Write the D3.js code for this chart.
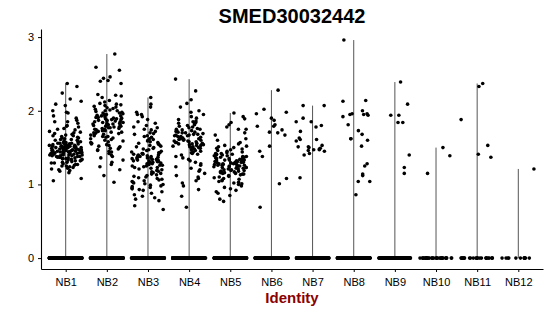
<!DOCTYPE html>
<html>
<meta charset="utf-8">
<head>
  <title>SMED30032442 violin</title>
</head>

<style>
body { margin: 0; background: white; }
text {
  font-family: "Liberation Sans", Arial, Helvetica, sans-serif;
}
.tick text { font-size: 11px; fill: black; }
.tick line, .domain { stroke: black; }
</style>

<body>
  <svg width="550" height="316"></svg>

  <script src="https://cdnjs.cloudflare.com/ajax/libs/d3/7.8.5/d3.min.js"></script>
  <script>
var identities = ["NB1", "NB2", "NB3", "NB4", "NB5", "NB6", "NB7", "NB8", "NB9", "NB10", "NB11", "NB12"];
var yTicks = [0, 1, 2, 3];

// number of cells with zero expression in each identity
var zeroCounts = [300, 280, 260, 270, 260, 220, 210, 200, 120, 34, 24, 12];

// non-zero expression values
var nb1 = [2.37,2.33,2.24,2.16,2.13,2.09,2.07,2.00,1.98,1.97,1.93,1.90,1.87,1.85,1.85,1.83,1.80,1.79,1.78,1.76,1.75,1.74,1.72,1.71,1.70,1.69,1.68,1.67,1.66,1.66,1.65,1.64,1.63,1.63,1.62,1.61,1.61,1.60,1.60,1.59,1.58,1.58,1.57,1.57,1.56,1.56,1.55,1.55,1.55,1.54,1.54,1.53,1.53,1.53,1.52,1.52,1.52,1.51,1.51,1.51,1.50,1.50,1.50,1.50,1.49,1.49,1.49,1.48,1.48,1.48,1.48,1.47,1.47,1.47,1.47,1.46,1.46,1.46,1.46,1.45,1.45,1.45,1.45,1.44,1.44,1.44,1.44,1.43,1.43,1.43,1.43,1.42,1.42,1.42,1.42,1.41,1.41,1.41,1.40,1.40,1.40,1.40,1.39,1.39,1.39,1.38,1.38,1.38,1.37,1.37,1.37,1.36,1.36,1.35,1.35,1.34,1.34,1.33,1.33,1.32,1.31,1.30,1.30,1.29,1.28,1.27,1.26,1.25,1.24,1.22,1.20,1.18,1.16,1.08,1.05,1.56,1.52,1.49,1.46,1.44,1.41,1.38,1.35,1.32,1.29,1.27,1.25,1.23,1.21,1.19];
var nb2 = [2.77,2.59,2.55,2.46,2.44,2.41,2.40,2.37,2.22,2.21,2.20,2.18,2.14,2.12,2.10,2.09,2.08,2.07,2.06,2.05,2.04,2.03,2.02,2.01,2.00,2.00,1.99,1.98,1.97,1.97,1.96,1.95,1.95,1.94,1.93,1.93,1.92,1.91,1.91,1.90,1.90,1.89,1.89,1.88,1.88,1.87,1.87,1.86,1.86,1.85,1.85,1.84,1.84,1.83,1.83,1.82,1.82,1.81,1.81,1.80,1.80,1.79,1.79,1.78,1.78,1.77,1.77,1.76,1.76,1.75,1.75,1.74,1.73,1.73,1.72,1.71,1.71,1.70,1.70,1.69,1.68,1.68,1.67,1.66,1.65,1.65,1.64,1.63,1.62,1.61,1.60,1.59,1.58,1.57,1.56,1.55,1.54,1.53,1.52,1.51,1.50,1.49,1.48,1.47,1.46,1.45,1.44,1.42,1.40,1.38,1.36,1.33,1.30,1.27,1.24,1.20,1.12,1.03];
var nb3 = [2.18,2.09,2.05,1.98,1.95,1.95,1.92,1.88,1.85,1.83,1.80,1.78,1.77,1.75,1.74,1.72,1.70,1.69,1.68,1.66,1.65,1.64,1.62,1.61,1.60,1.59,1.58,1.57,1.56,1.55,1.54,1.53,1.52,1.51,1.50,1.49,1.48,1.47,1.46,1.45,1.44,1.43,1.43,1.42,1.42,1.41,1.41,1.40,1.40,1.39,1.39,1.38,1.38,1.37,1.37,1.36,1.36,1.35,1.35,1.34,1.34,1.33,1.33,1.32,1.32,1.31,1.31,1.30,1.30,1.29,1.29,1.28,1.28,1.27,1.27,1.26,1.26,1.25,1.25,1.24,1.23,1.23,1.22,1.21,1.20,1.19,1.18,1.17,1.16,1.15,1.14,1.13,1.12,1.11,1.10,1.09,1.08,1.07,1.06,1.05,1.04,1.03,1.02,1.01,1.00,0.99,0.98,0.97,0.96,0.95,0.94,0.93,0.92,0.90,0.88,0.86,0.84,0.82,0.80,0.78,0.71,0.66];
var nb4 = [2.43,2.27,2.15,2.10,2.05,2.00,1.98,1.95,1.92,1.90,1.88,1.86,1.85,1.84,1.83,1.82,1.81,1.80,1.79,1.78,1.77,1.76,1.75,1.75,1.74,1.73,1.73,1.72,1.71,1.71,1.70,1.70,1.69,1.68,1.68,1.67,1.67,1.66,1.66,1.65,1.65,1.64,1.64,1.63,1.63,1.62,1.62,1.61,1.61,1.60,1.60,1.59,1.59,1.58,1.58,1.57,1.57,1.56,1.56,1.55,1.55,1.54,1.54,1.53,1.53,1.52,1.51,1.51,1.50,1.50,1.49,1.48,1.47,1.46,1.45,1.44,1.43,1.42,1.41,1.40,1.38,1.36,1.34,1.32,1.30,1.28,1.26,1.24,1.22,1.20,1.18,1.15,1.12,1.10,1.08,1.05,1.02,0.98,0.93,0.84,0.69];
var nb5 = [1.97,1.92,1.89,1.84,1.81,1.78,1.75,1.75,1.70,1.67,1.62,1.60,1.57,1.55,1.53,1.52,1.51,1.50,1.49,1.48,1.47,1.46,1.45,1.44,1.43,1.42,1.42,1.41,1.41,1.40,1.40,1.39,1.39,1.38,1.38,1.37,1.37,1.36,1.36,1.35,1.35,1.34,1.34,1.33,1.33,1.33,1.32,1.32,1.32,1.31,1.31,1.31,1.30,1.30,1.30,1.29,1.29,1.29,1.28,1.28,1.28,1.27,1.27,1.27,1.26,1.26,1.26,1.25,1.25,1.25,1.24,1.24,1.24,1.23,1.23,1.23,1.22,1.22,1.21,1.21,1.20,1.20,1.19,1.19,1.18,1.18,1.17,1.17,1.16,1.16,1.15,1.15,1.14,1.14,1.13,1.12,1.11,1.10,1.09,1.08,1.07,1.06,1.05,1.04,1.03,1.02,1.01,1.00,0.98,0.96,0.94,0.92,0.90,0.88,0.85,0.80,0.77];
var nb6 = [2.28,2.02,1.98,1.96,1.90,1.87,1.81,1.79,1.79,1.74,1.71,1.70,1.67,1.52,1.45,1.38,1.08,1.01,0.69];
var nb7 = [2.07,2.07,1.90,1.85,1.85,1.80,1.78,1.72,1.63,1.61,1.61,1.59,1.53,1.51,1.51,1.50,1.49,1.48,1.47,1.47,1.46,1.45,1.42,1.40,1.09];
var nb8 = [2.96,2.14,2.13,2.00,1.96,1.96,1.95,1.95,1.94,1.92,1.81,1.73,1.68,1.62,1.62,1.60,1.52,1.28,1.25,1.14,1.12,1.04,1.04,0.86];
var nb9 = [2.39,2.09,1.94,1.94,1.84,1.84,1.40,1.23,1.15];
var nb10 = [1.50,1.39,1.15];
var nb11 = [2.37,2.33,1.88,1.53,1.41,1.37];
var nb12 = [1.21];

var groups = [nb1, nb2, nb3, nb4, nb5, nb6, nb7, nb8, nb9, nb10, nb11, nb12];

var svg = d3.select('svg');
var plotLeft = 41, plotRight = 543, plotTop = 29, plotBottom = 269;

var x = d3.scalePoint()
  .domain(identities)
  .range([plotLeft, plotRight])
  .padding(0.6);

var y = d3.scaleLinear()
  .domain([-0.148, 3.11])
  .range([plotBottom, plotTop]);

var jitter = 0.4 * x.step();

// deterministic scatter in [0, 1) for horizontal jitter
function spread(a, b) {
  var s = Math.sin(a * 12.9898 + b * 78.233) * 43758.5453;
  return s - Math.floor(s);
}

// violins collapse to a thin line: nearly all mass sits at zero
svg.append('g')
  .selectAll('line')
  .data(identities)
  .enter()
  .append('line')
  .attr('x1', function(d) { return x(d); })
  .attr('x2', function(d) { return x(d); })
  .attr('y1', y(0))
  .attr('y2', function(d, i) { return y(d3.max(groups[i])); })
  .attr('stroke', '#555')
  .attr('stroke-width', 1);

var cells = [];
identities.forEach(function(id, g) {
  for (var i = 0; i < zeroCounts[g]; i++) {
    cells.push({id: id, v: 0, u: spread(i + 1, g + 0.5)});
  }
  groups[g].forEach(function(v, i) {
    cells.push({id: id, v: v, u: spread(i + 401, g + 3.7)});
  });
});

svg.append('g')
  .selectAll('circle')
  .data(cells)
  .enter()
  .append('circle')
  .attr('cx', function(d) { return x(d.id) + (d.u - 0.5) * 2 * jitter; })
  .attr('cy', function(d) { return y(d.v); })
  .attr('r', 1.8)
  .attr('fill', 'black');

svg.append('g')
  .attr('transform', 'translate(' + plotLeft + ',0)')
  .call(d3.axisLeft(y).tickValues(yTicks).tickFormat(d3.format('d'))
    .tickSize(3).tickSizeOuter(0).tickPadding(4));

svg.append('g')
  .attr('transform', 'translate(0,' + plotBottom + ')')
  .call(d3.axisBottom(x).tickSize(3).tickSizeOuter(0).tickPadding(6));

svg.selectAll('.domain').attr('stroke-width', 1.1);

svg.append('text')
  .attr('x', (plotLeft + plotRight) / 2)
  .attr('y', 23)
  .attr('text-anchor', 'middle')
  .style('font-size', '20px')
  .style('font-weight', 'bold')
  .text('SMED30032442');

svg.append('text')
  .attr('x', (plotLeft + plotRight) / 2)
  .attr('y', 303)
  .attr('text-anchor', 'middle')
  .style('font-size', '15px')
  .style('font-weight', 'bold')
  .style('fill', '#8B0000')
  .text('Identity');
  </script>
</body>
</html>
